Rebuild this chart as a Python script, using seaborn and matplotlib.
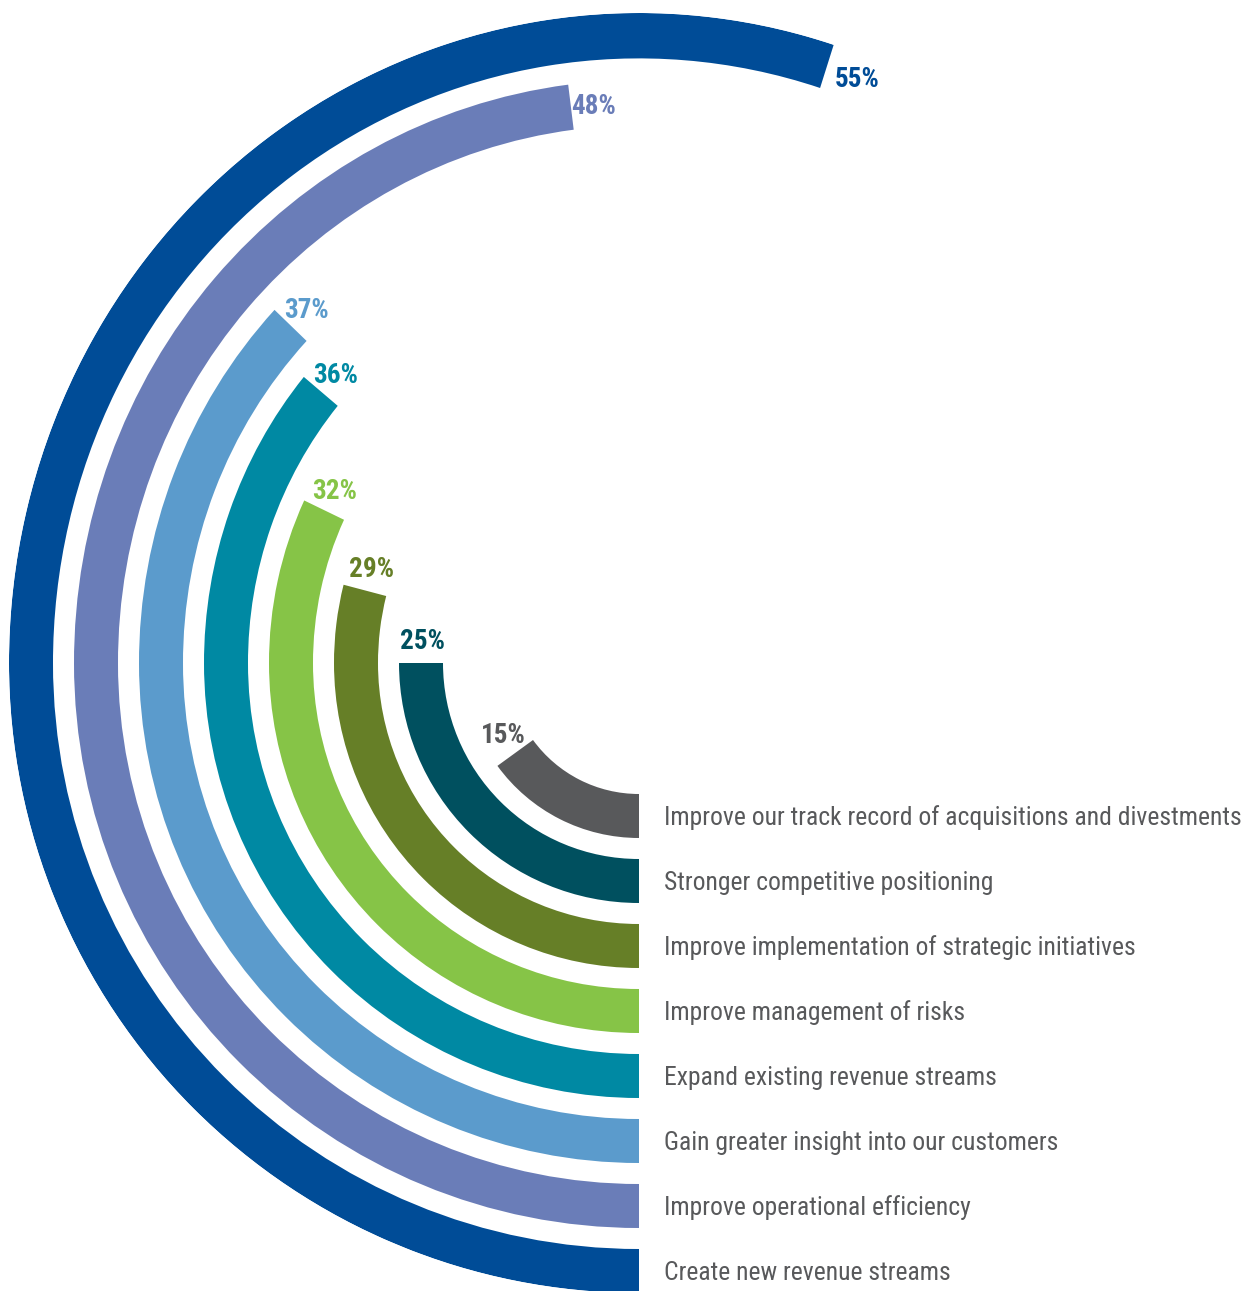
import numpy as np
import matplotlib
matplotlib.use("Agg")
import matplotlib.pyplot as plt
import matplotlib.font_manager as fm
import seaborn as sns

# ---------------- data ----------------
categories = [
    "Improve our track record of acquisitions and divestments",
    "Stronger competitive positioning",
    "Improve implementation of strategic initiatives",
    "Improve management of risks",
    "Expand existing revenue streams",
    "Gain greater insight into our customers",
    "Improve operational efficiency",
    "Create new revenue streams",
]
values = [15, 25, 29, 32, 36, 37, 48, 55]
value_labels = ["15%", "25%", "29%", "32%", "36%", "37%", "48%", "55%"]
colors = ["#58595b", "#00505f", "#667f27", "#86c447",
          "#0089a3", "#5b9bcc", "#6a7db8", "#004c97"]

# ---------------- style ----------------
sns.set_theme(style="white")
palette = sns.color_palette(colors)

names = {f.name for f in fm.fontManager.ttflist}
cond_family = None
for cand in ["Roboto Condensed", "Liberation Sans Narrow", "Open Sans Condensed",
             "Noto Sans Condensed", "DejaVu Sans Condensed"]:
    if cand in names:
        cond_family = cand
        break
if cond_family is None:
    cond_family = "DejaVu Sans"
plt.rcParams["font.family"] = [cond_family, "DejaVu Sans"]

fp_reg = fm.FontProperties(family=[cond_family, "DejaVu Sans"], stretch="condensed")
fp_bold = fm.FontProperties(family=[cond_family, "DejaVu Sans"], weight="bold", stretch="condensed")

W, H = 1250, 1291
fig = plt.figure(figsize=(W / 100, H / 100), dpi=100)
fig.patch.set_facecolor("white")
renderer = fig.canvas.get_renderer()


def fit_size(text, fp, target_px, base=20.0):
    f = fp.copy()
    f.set_size(base)
    t = fig.text(0, 0, text, fontproperties=f)
    w = t.get_window_extent(renderer=renderer).width
    t.remove()
    return base * target_px / w


fs_cat = fit_size(categories[0], fp_reg, 577)
fs_pct = fit_size("55%", fp_bold, 45)
fp_cat = fp_reg.copy(); fp_cat.set_size(fs_cat)
fp_pct = fp_bold.copy(); fp_pct.set_size(fs_pct)

# geometry (pixels)
cx, cy = 639, 663          # centre (from top-left)
R = 630                    # outer radius horizontally / lower half
R_up = 650                 # upper half is slightly taller
r0, pitch, thick = 131, 65, 44


def polar_ax(top_px, bottom_px):
    ax = fig.add_axes([(cx - R) / W, (H - bottom_px) / H, 2 * R / W,
                       (bottom_px - top_px) / H], projection="polar")
    ax.set_aspect("auto")
    ax.set_theta_zero_location("S")
    ax.set_theta_direction(-1)
    ax.set_ylim(0, R)
    ax.set_axis_off()
    return ax


ax_lo = polar_ax(cy - R, cy + R)
ax_hi = polar_ax(cy - R_up, cy + R_up)

half = np.pi / 2
for i, (cat, v, lab, col) in enumerate(zip(categories, values, value_labels, palette)):
    theta = v / 100 * 2 * np.pi
    rin = r0 + i * pitch
    rmid = rin + thick / 2
    # lower half of the ring
    ax_lo.bar(0, thick, width=min(theta, half), bottom=rin, align="edge",
              color=col, linewidth=0)
    if theta > half:
        ax_hi.bar(half - 0.003, thick, width=theta - half + 0.003, bottom=rin,
                  align="edge", color=col, linewidth=0)
    # category label
    ax_lo.annotate(cat, xy=(0, rmid), xytext=(18, -0.36 * fs_cat),
                   textcoords="offset points", ha="left", va="baseline",
                   color="#58595b", fontproperties=fp_cat, annotation_clip=False)
    # value label, a little beyond the end of the bar
    gap = 23 + 30 * max(0.0, -np.sin(theta))
    ang = theta + gap / rmid
    axv = ax_lo if ang <= half else ax_hi
    axv.annotate(lab, xy=(ang, rmid), xytext=(0, -0.36 * fs_pct),
                 textcoords="offset points", ha="center", va="baseline",
                 color=col, fontproperties=fp_pct, annotation_clip=False)

fig.savefig("out.png", dpi=100, facecolor="white")
